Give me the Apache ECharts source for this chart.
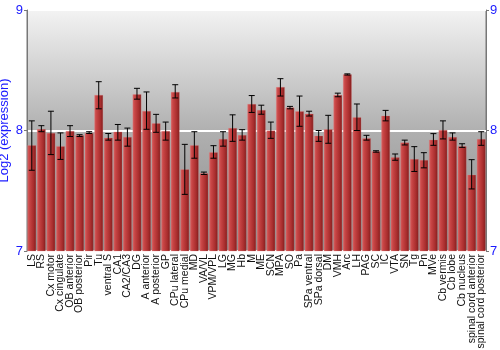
<!DOCTYPE html>
<html><head><meta charset="utf-8">
<script src="https://cdn.jsdelivr.net/npm/echarts@6/dist/echarts.min.js"></script>
<style>html,body{margin:0;padding:0;background:#fff}#c{width:500px;height:350px}</style>
</head><body><div id="c"></div>
<script>
var categories = ["LS","RS","Cx motor","Cx cingulate","OB anterior","OB posterior","Pir","Tu","ventral S","CA1","CA2/CA3","DG","A anterior","A posterior","GP","CPu lateral","CPu medial","MD","VA/VL","VPM/VPL","LG","MG","Hb","M","ME","SCN","MPA","SO","Pa","SPa ventral","SPa dorsal","DM","VMH","Arc","LH","PAG","SC","IC","VTA","SN","Tg","Pn","MVe","Cb vermis","Cb lobe","Cb nucleus","spinal cord anterior","spinal cord posterior"];
var values = [7.877,8.012,7.98,7.87,7.995,7.96,7.98,8.295,7.94,7.99,7.946,8.30,8.162,8.06,7.996,8.32,7.678,7.877,7.645,7.82,7.93,8.02,7.963,8.22,8.17,8.0,8.36,8.19,8.16,8.14,7.957,8.01,8.295,8.466,8.11,7.935,7.827,8.123,7.777,7.90,7.763,7.755,7.924,8.004,7.946,7.87,7.633,7.93];
var errLow = [7.67,7.99,7.80,7.76,7.95,7.95,7.975,8.18,7.92,7.92,7.87,8.26,8.01,7.985,7.92,8.27,7.47,7.77,7.635,7.77,7.87,7.91,7.92,8.15,8.135,7.935,8.286,8.18,8.035,8.12,7.91,7.894,8.28,8.46,8.0,7.92,7.82,8.08,7.753,7.88,7.66,7.69,7.877,7.93,7.92,7.86,7.515,7.877];
var errHigh = [8.08,8.04,8.16,7.98,8.04,7.965,7.99,8.405,7.975,8.05,8.02,8.35,8.32,8.134,8.07,8.38,7.885,7.99,7.655,7.874,7.99,8.13,8.007,8.29,8.21,8.07,8.43,8.20,8.286,8.16,8.00,8.126,8.31,8.47,8.22,7.96,7.832,8.167,7.805,7.92,7.866,7.816,7.974,8.08,7.98,7.89,7.758,7.99];
var yTicks = [7, 8, 9];

var chart = echarts.init(document.getElementById('c'));
var errData = categories.map(function(c, i){ return [i, errLow[i], errHigh[i]]; });
chart.setOption({
  animation: false,
  grid: {
    left: 27, right: 14, top: 10, bottom: 99, show: true, outerBoundsMode: 'none', containLabel: false,
    borderColor: '#777', borderWidth: 1,
    backgroundColor: new echarts.graphic.LinearGradient(0,0,0,1,[
      {offset:0,color:'#f3f3f3'},{offset:0.5,color:'#b0b0b0'},{offset:1,color:'#8a8a8a'}])
  },
  xAxis: {
    type: 'category', data: categories,
    axisLine: {show:false}, axisTick: {show:false},
    axisLabel: {interval:0, rotate:90, fontSize:10.5, color:'#111', fontFamily:'Liberation Sans, Arial', margin:3}
  },
  yAxis: [{
    type: 'value', min: yTicks[0], max: yTicks[2], interval: 1,
    name: 'Log2 (expression)', nameLocation: 'middle', nameGap: 16, nameMoveOverlap: false,
    nameTextStyle: {color:'#1a1aff', fontSize:13, fontFamily:'Liberation Sans, Arial'},
    axisLine: {show:true, lineStyle:{color:'#777'}},
    axisTick: {show:true, length:3, lineStyle:{color:'#777'}},
    axisLabel: {color:'#1a1aff', fontSize:13, fontFamily:'Liberation Sans, Arial', margin:4},
    splitLine: {show:true, lineStyle:{color:'#ffffff', width:2}}
  },{
    type: 'value', min: yTicks[0], max: yTicks[2], interval: 1, position:'right',
    axisLine: {show:true, lineStyle:{color:'#777'}},
    axisTick: {show:true, length:3, lineStyle:{color:'#777'}},
    axisLabel: {color:'#1a1aff', fontSize:13, fontFamily:'Liberation Sans, Arial', margin:4},
    splitLine: {show:false}
  }],
  series: [{
    type: 'bar', data: values, barCategoryGap: '8%',
    itemStyle: {
      color: new echarts.graphic.LinearGradient(0,0,1,0,[
        {offset:0,color:'#d76262'},{offset:0.25,color:'#c84545'},{offset:0.7,color:'#a82d2d'},{offset:1,color:'#7f1d1d'}]),
      borderColor: 'rgba(230,140,140,0.5)', borderWidth: 0.5
    }
  },{
    type: 'custom', data: errData, z: 10,
    renderItem: function(params, api){
      var x = api.value(0);
      var lo = api.coord([x, api.value(1)]);
      var hi = api.coord([x, api.value(2)]);
      var w = 3;
      var st = {stroke:'#000', lineWidth:1};
      return {type:'group', children:[
        {type:'line', shape:{x1:lo[0],y1:lo[1],x2:hi[0],y2:hi[1]}, style:st},
        {type:'line', shape:{x1:lo[0]-w,y1:lo[1],x2:lo[0]+w,y2:lo[1]}, style:st},
        {type:'line', shape:{x1:hi[0]-w,y1:hi[1],x2:hi[0]+w,y2:hi[1]}, style:st}
      ]};
    }
  }]
});
</script></body></html>
